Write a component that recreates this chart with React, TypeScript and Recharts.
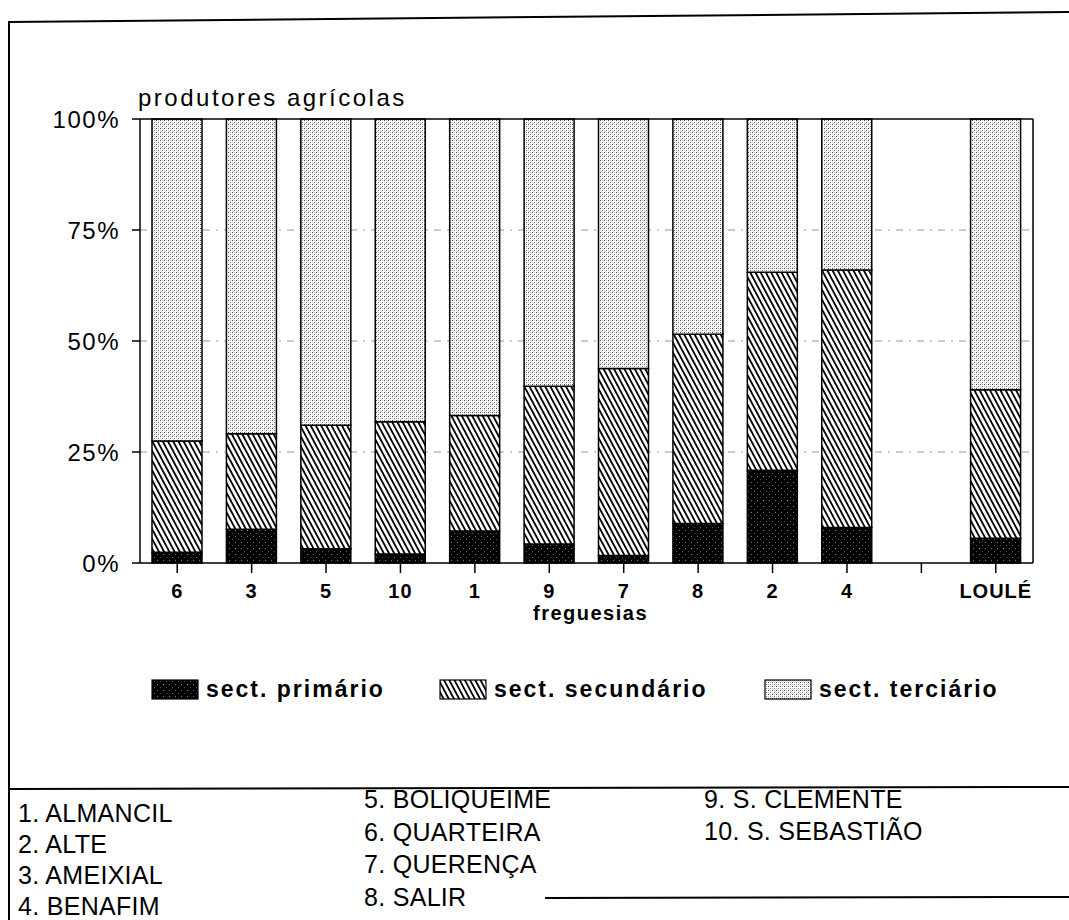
import { BarChart, Bar, XAxis, YAxis, CartesianGrid } from "recharts"

// freguesias ordered as in the chart (blank slot before LOULÉ)
const categorias = ["6", "3", "5", "10", "1", "9", "7", "8", "2", "4", "", "LOULÉ"]
const primario = [2.4, 7.6, 3.2, 2.0, 7.2, 4.3, 1.7, 8.9, 20.9, 8.0, null, 5.6]
const secundario = [25.1, 21.5, 27.8, 29.8, 26.0, 35.5, 42.1, 42.6, 44.6, 58.0, null, 33.4]
const terciario = [72.5, 70.9, 69.0, 68.2, 66.8, 60.2, 56.2, 48.5, 34.5, 34.0, null, 61.0]
const yTicks = [0, 25, 50, 75, 100]

const legenda = ["sect. primário", "sect. secundário", "sect. terciário"]
const listaCol1 = ["1. ALMANCIL", "2. ALTE", "3. AMEIXIAL", "4. BENAFIM"]
const listaCol2 = ["5. BOLIQUEIME", "6. QUARTEIRA", "7. QUERENÇA", "8. SALIR"]
const listaCol3 = ["9. S. CLEMENTE", "10. S. SEBASTIÃO"]

const data = categorias.map((nome, i) => ({
    nome,
    primario: primario[i],
    secundario: secundario[i],
    terciario: terciario[i],
}))

const FONT = "'Liberation Sans', Arial, Helvetica, sans-serif"

function Patterns({ p }: { p: string }) {
    return (
        <defs>
            <pattern id={`${p}-prim`} width="6" height="6" patternUnits="userSpaceOnUse">
                <rect width="6" height="6" fill="#000" />
                <rect x="1" y="2" width="1" height="1" fill="#fff" opacity="0.5" />
                <rect x="4" y="5" width="1" height="1" fill="#fff" opacity="0.35" />
            </pattern>
            <pattern
                id={`${p}-sec`}
                width="4.6"
                height="10"
                patternUnits="userSpaceOnUse"
                patternTransform="rotate(-28)"
            >
                <rect width="4.6" height="10" fill="#fff" />
                <rect x="0" y="0" width="1.8" height="10" fill="#000" />
            </pattern>
            <pattern id={`${p}-ter`} width="4" height="4" patternUnits="userSpaceOnUse">
                <rect width="4" height="4" fill="#fff" />
                <rect x="0" y="0" width="1" height="1" fill="#444" />
                <rect x="2" y="2" width="1" height="1" fill="#777" />
                <rect x="2" y="0" width="1" height="1" fill="#bbb" />
                <rect x="0" y="2" width="1" height="1" fill="#c4c4c4" />
                <rect x="1" y="3" width="1" height="1" fill="#ddd" />
            </pattern>
        </defs>
    )
}

const text = (size: number, extra: object = {}) => ({
    position: "absolute" as const,
    fontFamily: FONT,
    fontSize: size,
    lineHeight: `${size}px`,
    color: "#000",
    whiteSpace: "nowrap" as const,
    ...extra,
})

export default function App() {
    const legendX = [152, 440, 765]
    const fills = ["lg-prim", "lg-sec", "lg-ter"]

    return (
        <div style={{ position: "absolute", left: 0, top: 0, width: 1069, height: 920, background: "#fff", overflow: "hidden" }}>
            {/* page frame lines */}
            <svg width={1069} height={920} style={{ position: "absolute", left: 0, top: 0 }}>
                <line x1={9} y1={22} x2={1069} y2={12} stroke="#000" strokeWidth={2} />
                <line x1={9} y1={21} x2={9} y2={920} stroke="#000" strokeWidth={2} />
                <line x1={9} y1={789} x2={1069} y2={787} stroke="#000" strokeWidth={2} />
                <line x1={545} y1={898} x2={1069} y2={897} stroke="#000" strokeWidth={2} />
            </svg>

            <div style={{ position: "absolute", left: 0, top: 0 }}>
                <BarChart
                    width={1069}
                    height={920}
                    data={data}
                    margin={{ top: 118, right: 35, bottom: 297, left: 60 }}
                    barSize={50}
                >
                    <Patterns p="ch" />
                    <CartesianGrid
                        vertical={false}
                        stroke="#999"
                        strokeDasharray="7 6 2 6"
                        yAxisId="l"
                        horizontalValues={[25, 50, 75]}
                    />
                    <XAxis
                        dataKey="nome"
                        interval={0}
                        height={60}
                        tickSize={10}
                        tickMargin={11}
                        axisLine={{ stroke: "#000", strokeWidth: 1.5 }}
                        tickLine={{ stroke: "#000", strokeWidth: 1.5 }}
                        tick={{ fill: "#000", fontSize: 20, fontWeight: "bold", fontFamily: FONT, letterSpacing: 1 }}
                    />
                    <XAxis
                        xAxisId="top"
                        dataKey="nome"
                        orientation="top"
                        height={1}
                        tick={false}
                        tickLine={false}
                        axisLine={{ stroke: "#000", strokeWidth: 1.5 }}
                    />
                    <YAxis
                        yAxisId="l"
                        domain={[0, 100]}
                        ticks={yTicks}
                        width={80}
                        tickSize={8}
                        tickMargin={12}
                        tickFormatter={(v: number) => `${v}%`}
                        axisLine={{ stroke: "#000", strokeWidth: 1.5 }}
                        tickLine={{ stroke: "#000", strokeWidth: 1.5 }}
                        tick={{ fill: "#000", fontSize: 24, fontFamily: FONT, letterSpacing: 1.5 }}
                    />
                    <YAxis
                        yAxisId="r"
                        orientation="right"
                        domain={[0, 100]}
                        width={1}
                        tick={false}
                        tickLine={false}
                        axisLine={{ stroke: "#000", strokeWidth: 1.5 }}
                    />
                    <Bar dataKey="primario" stackId="a" yAxisId="l" fill="url(#ch-prim)" stroke="#000" strokeWidth={1.5} isAnimationActive={false} />
                    <Bar dataKey="secundario" stackId="a" yAxisId="l" fill="url(#ch-sec)" stroke="#000" strokeWidth={1.5} isAnimationActive={false} />
                    <Bar dataKey="terciario" stackId="a" yAxisId="l" fill="url(#ch-ter)" stroke="#000" strokeWidth={1.5} isAnimationActive={false} />
                </BarChart>
            </div>

            <div style={text(24, { left: 138, top: 86, letterSpacing: 2.5 })}>produtores agrícolas</div>
            <div style={text(20, { left: 533, top: 603, fontWeight: "bold", letterSpacing: 1.5 })}>freguesias</div>

            {/* legend */}
            <svg width={1069} height={40} style={{ position: "absolute", left: 0, top: 670 }}>
                <Patterns p="lg" />
                {legenda.map((_, i) => (
                    <rect key={i} x={legendX[i]} y={10} width={46} height={19} fill={`url(#${fills[i]})`} stroke="#000" strokeWidth={1.2} />
                ))}
            </svg>
            {legenda.map((l, i) => (
                <div key={l} style={text(23, { left: legendX[i] + 54, top: 678, fontWeight: "bold", letterSpacing: 2 })}>
                    {l}
                </div>
            ))}

            {/* freguesias list */}
            {listaCol1.map((f, i) => (
                <div key={f} style={text(25, { left: 18, top: 801 + i * 31, letterSpacing: 0.3 })}>{f}</div>
            ))}
            {listaCol2.map((f, i) => (
                <div key={f} style={text(25, { left: 364, top: 787 + i * 32.5, letterSpacing: 0.3 })}>{f}</div>
            ))}
            {listaCol3.map((f, i) => (
                <div key={f} style={text(25, { left: 704, top: 787 + i * 32, letterSpacing: 0.3 })}>{f}</div>
            ))}
        </div>
    )
}
